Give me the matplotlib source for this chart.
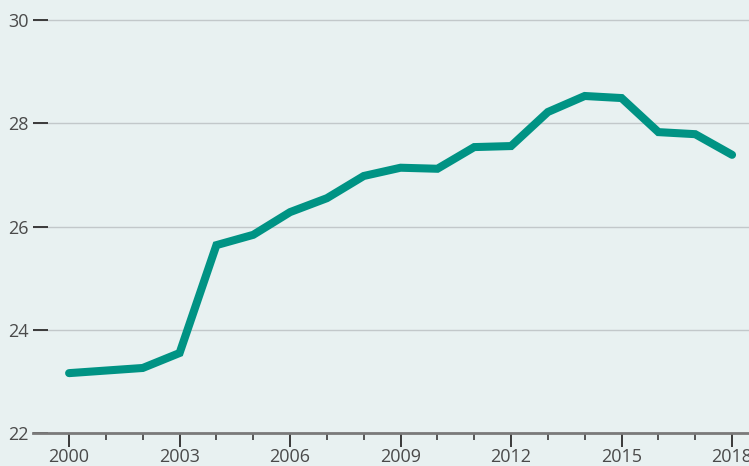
import numpy as np
import matplotlib.pyplot as plt
from matplotlib.ticker import MultipleLocator

years = list(range(2000, 2019))
values = [23.16, 23.21, 23.26, 23.55, 25.64, 25.84, 26.28, 26.55, 26.98, 27.14,
          27.12, 27.54, 27.56, 28.22, 28.53, 28.49, 27.83, 27.79, 27.39]
y_ticks = [22, 24, 26, 28, 30]
x_labels = [2000, 2003, 2006, 2009, 2012, 2015, 2018]

bg = "#e8f1f1"
W, H = 749, 466
fig = plt.figure(figsize=(W / 100, H / 100), dpi=100, facecolor=bg)
ax = fig.add_axes([33 / W, 33 / H, (W - 33) / W, 433 / H], facecolor=bg)

ax.plot(years, values, color="#009384", lw=5.8, solid_capstyle="round",
        solid_joinstyle="miter", zorder=3)

ax.set_xlim(1999.02, 2018.46)
ax.set_ylim(22, 30.39)

ax.set_yticks(y_ticks)
ax.yaxis.grid(True, color="#c2c8ca", lw=1)
ax.set_axisbelow(True)
ax.tick_params(axis="y", direction="in", length=11, width=1.4, color="#3a3a3a",
               labelsize=13, labelcolor="#4a4a4a", pad=3)

ax.set_xticks(x_labels)
ax.xaxis.set_minor_locator(MultipleLocator(1))
ax.tick_params(axis="x", which="major", direction="out", length=10, width=1.4,
               color="#3a3a3a", labelsize=13, labelcolor="#4a4a4a", pad=1)
ax.tick_params(axis="x", which="minor", direction="out", length=5, width=1.2,
               color="#3a3a3a")

for s in ["top", "right", "left"]:
    ax.spines[s].set_visible(False)
ax.spines["bottom"].set_color("#7a7a7a")
ax.spines["bottom"].set_linewidth(2)

for lab in ax.get_yticklabels() + ax.get_xticklabels():
    lab.set_family(["Open Sans", "DejaVu Sans"])

fig.savefig("out.png", dpi=100, facecolor=bg)
